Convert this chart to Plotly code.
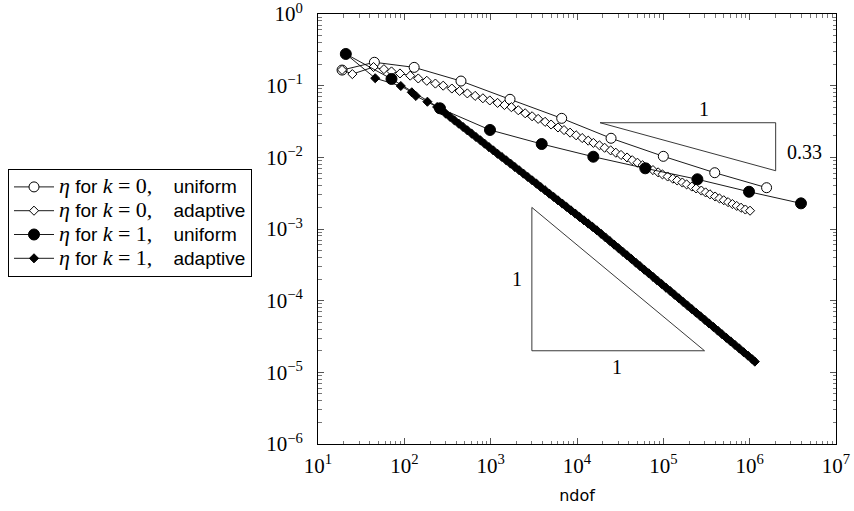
import math
import plotly.graph_objects as go

# ---------------- data ----------------
k0_uni_ndof = [19, 45, 130, 453, 1675, 6650, 24800, 100000, 394000, 1570000]
k0_uni_eta = [0.165, 0.212, 0.180, 0.116, 0.0645, 0.035, 0.01845, 0.01033, 0.0061, 0.00377]

k1_uni_ndof = [21, 71, 259, 982, 3900, 15450, 61800, 248000, 983000, 3930000]
k1_uni_eta = [0.277, 0.124, 0.0483, 0.0241, 0.01535, 0.0102, 0.00703, 0.00494, 0.00331, 0.00228]

k0_ada_ndof = [19, 25, 44, 58, 71, 89, 117, 145, 182, 229, 282, 355, 437, 537, 661, 813,
               977, 1202, 1445, 1738, 2089, 2512, 3020, 3548, 4266, 5012, 6026, 7079, 8318,
               9772, 11480, 13490, 15490, 18200, 20890, 24550, 28180, 32360, 38020, 43650,
               50120, 57540, 66070, 75860, 87100, 97720, 112200, 128800, 144500, 166000,
               186200, 213800, 239900, 275400, 309000, 346700, 398100, 446700, 501200,
               562300, 631000, 707900, 794300, 891300, 1010000]
k0_ada_eta = [0.166, 0.145, 0.182, 0.170, 0.158, 0.148, 0.138, 0.126, 0.117, 0.107, 0.100,
              0.0912, 0.0843, 0.0780, 0.0721, 0.0667, 0.0622, 0.0575, 0.0537, 0.0501, 0.0454,
              0.0412, 0.0374, 0.0344, 0.0313, 0.0287, 0.0261, 0.0240, 0.0221, 0.0203, 0.0186,
              0.0171, 0.0159, 0.0147, 0.0136, 0.0125, 0.0116, 0.0108, 0.00995, 0.00912,
              0.00841, 0.00776, 0.00716, 0.00664, 0.00617, 0.00578, 0.00540, 0.00504,
              0.00476, 0.00445, 0.00419, 0.00391, 0.00368, 0.00344, 0.00324, 0.00305,
              0.00284, 0.00267, 0.00252, 0.00237, 0.00223, 0.00210, 0.00198, 0.00187, 0.00180]

k1_ada_ndof = [21, 46, 91, 122, 136, 185, 240, 269, 302, 339, 380, 427, 479, 537, 603, 676,
               759, 851, 955, 1072, 1202, 1349, 1514, 1698, 1905, 2138, 2399, 2692, 3020,
               3388, 3802, 4266, 4786, 5370, 6026, 6761, 7586, 8511, 9550, 10720, 12020,
               13490, 15140, 16980, 19050, 21380, 23990, 26920, 30200, 33880, 38020, 42660,
               47860, 53700, 60260, 67610, 75860, 85110, 95500, 107200, 120200, 134900,
               151400, 169800, 190500, 213800, 239900, 269200, 302000, 338800, 380200,
               426600, 478600, 537000, 602600, 676100, 758600, 851100, 955000, 1072000, 1148000]
k1_ada_eta = [0.277, 0.127, 0.0989, 0.0808, 0.0718, 0.0597, 0.0504, 0.0453, 0.0407, 0.0366,
              0.0328, 0.0295, 0.0265, 0.0238, 0.0214, 0.0192, 0.0173, 0.0155, 0.0139, 0.0125,
              0.0112, 0.0101, 0.00908, 0.00817, 0.00733, 0.00659, 0.00592, 0.00532, 0.00478,
              0.00430, 0.00385, 0.00347, 0.00311, 0.00280, 0.00251, 0.00226, 0.00203, 0.00182,
              0.00164, 0.00147, 0.00132, 0.00119, 0.00107, 0.000959, 0.000855, 0.000762,
              0.000679, 0.000605, 0.000540, 0.000481, 0.000429, 0.000382, 0.000340, 0.000303,
              0.000270, 0.000241, 0.000215, 0.000191, 0.000171, 0.000152, 0.000136, 0.000121,
              0.000108, 0.0000959, 0.0000855, 0.0000762, 0.0000679, 0.0000605, 0.0000540,
              0.0000481, 0.0000429, 0.0000382, 0.0000340, 0.0000303, 0.0000270, 0.0000241,
              0.0000215, 0.0000191, 0.0000171, 0.0000152, 0.0000141]

# slope triangles
tri1_x = [18500, 2000000, 2000000, 18500]
tri1_y = [0.0304, 0.0304, 0.0065, 0.0304]
tri2_x = [3000, 3000, 300000, 3000]
tri2_y = [0.002, 0.00002, 0.00002, 0.002]

tick_vals_x = [10, 100, 1000, 10000, 100000, 1000000, 10000000]
tick_text_x = ["10<sup>1</sup>", "10<sup>2</sup>", "10<sup>3</sup>", "10<sup>4</sup>",
               "10<sup>5</sup>", "10<sup>6</sup>", "10<sup>7</sup>"]
tick_vals_y = [1e-6, 1e-5, 1e-4, 1e-3, 1e-2, 1e-1, 1]
tick_text_y = ["10<sup>\u22126</sup>", "10<sup>\u22125</sup>", "10<sup>\u22124</sup>",
               "10<sup>\u22123</sup>", "10<sup>\u22122</sup>", "10<sup>\u22121</sup>",
               "10<sup>0</sup>"]

SERIF = "Liberation Serif"
SANS = "Liberation Sans"


def lab(k, kind):
    sr = f'font-family:{SERIF};font-size:22px'
    ss = f'font-family:{SANS};font-size:19px'
    return (f'<span style="{sr}"><i>η</i></span>'
            f'<span style="{ss}"> for\u00a0</span>'
            f'<span style="{sr}"><i>k</i> = {k},</span>'
            f'<span style="{ss}">\u00a0\u00a0\u00a0 {kind}</span>')


fig = go.Figure()

for tx, ty in [(tri1_x, tri1_y), (tri2_x, tri2_y)]:
    fig.add_trace(go.Scatter(x=tx, y=ty, mode="lines", showlegend=False,
                             line=dict(color="#222", width=0.9), hoverinfo="skip"))

line_style = dict(color="black", width=0.9)
fig.add_trace(go.Scatter(x=k0_uni_ndof, y=k0_uni_eta, mode="lines+markers", name=lab(0, "uniform"),
                         line=line_style,
                         marker=dict(symbol="circle", size=10, color="white",
                                     line=dict(color="black", width=1))))
fig.add_trace(go.Scatter(x=k0_ada_ndof, y=k0_ada_eta, mode="lines+markers", name=lab(0, "adaptive"),
                         line=line_style,
                         marker=dict(symbol="diamond", size=7, color="white",
                                     line=dict(color="black", width=1))))
fig.add_trace(go.Scatter(x=k1_uni_ndof, y=k1_uni_eta, mode="lines+markers", name=lab(1, "uniform"),
                         line=line_style,
                         marker=dict(symbol="circle", size=11, color="black",
                                     line=dict(color="black", width=1))))
fig.add_trace(go.Scatter(x=k1_ada_ndof, y=k1_ada_eta, mode="lines+markers", name=lab(1, "adaptive"),
                         line=line_style,
                         marker=dict(symbol="diamond", size=7, color="black",
                                     line=dict(color="black", width=1))))

ann_font = dict(family=SERIF, size=20, color="black")
annots = [
    (5.471, -1.33, "1"),
    (6.63, -1.921, "0.33"),
    (3.302, -3.702, "1"),
    (4.463, -4.925, "1"),
]
for ax_, ay_, t in annots:
    fig.add_annotation(x=ax_, y=ay_, text=t, showarrow=False, font=ann_font,
                       xref="x", yref="y")

axis_common = dict(
    type="log", showgrid=False, zeroline=False, showline=True, linecolor="black",
    linewidth=1, mirror="ticks", ticks="inside", ticklen=6, tickcolor="#555",
    tickwidth=1, tickfont=dict(family=SERIF, size=21, color="black"),
    ticklabeloverflow="allow",
    minor=dict(ticks="inside", ticklen=3.5, tickcolor="#777", tickwidth=1, dtick="D1"),
)

fig.update_xaxes(range=[1, 7], tickmode="array", tickvals=tick_vals_x, ticktext=tick_text_x,
                 title=dict(text="ndof", font=dict(family="DejaVu Sans", size=16, color="black"),
                            standoff=12),
                 ticklabelstandoff=3, **axis_common)
fig.update_yaxes(range=[-6, 0], tickmode="array", tickvals=tick_vals_y, ticktext=tick_text_y,
                 ticklabelstandoff=10, **axis_common)

fig.update_layout(
    width=854, height=511,
    margin=dict(l=318, r=18, t=14, b=67, autoexpand=False),
    paper_bgcolor="white", plot_bgcolor="white",
    legend=dict(xref="container", yref="container", x=8 / 854, y=1 - 169 / 511,
                xanchor="left", yanchor="top", bgcolor="white", bordercolor="black",
                borderwidth=1, font=dict(family=SANS, size=16, color="black"),
                tracegroupgap=0, itemwidth=40),
)

fig.write_html("out.html", config={"displayModeBar": False},
               post_script="document.body.style.margin='0';")
